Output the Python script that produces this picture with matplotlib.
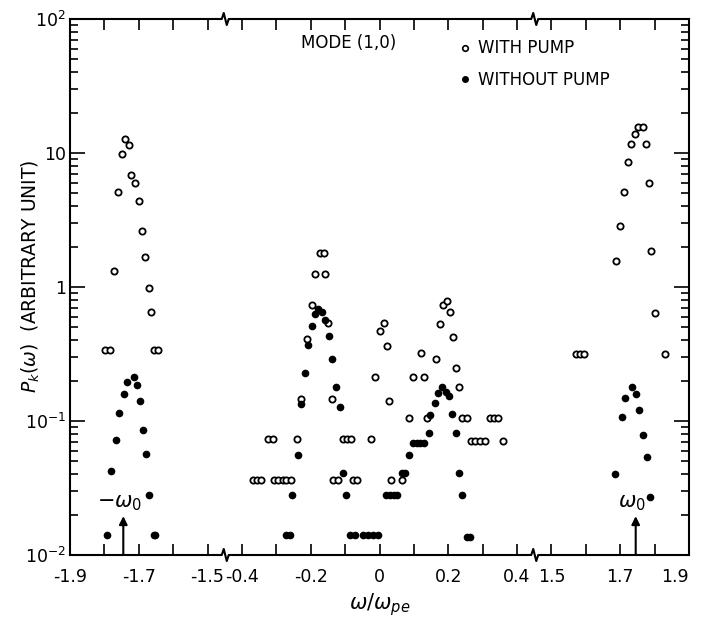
import numpy as np
import matplotlib
matplotlib.use("Agg")
import matplotlib.pyplot as plt
from matplotlib.lines import Line2D

# Spectrum with pump (open circles)
with_pump_x = [-1.797, -1.785, -1.772, -1.760, -1.748, -1.740, -1.728, -1.722, -1.710, -1.699,
               -1.690, -1.681, -1.670, -1.664, -1.657, -1.645,
               -0.369, -0.357, -0.346, -0.325, -0.311, -0.306, -0.294, -0.282, -0.271, -0.257,
               -0.241, -0.227, -0.210, -0.197, -0.187, -0.173, -0.162, -0.158, -0.149, -0.138,
               -0.134, -0.121, -0.107, -0.095, -0.083, -0.076, -0.064,
               -0.024, -0.012, 0.002, 0.012, 0.021, 0.029, 0.034, 0.064,
               0.086, 0.098, 0.129, 0.120, 0.139, 0.164, 0.175, 0.185, 0.197, 0.206,
               0.214, 0.222, 0.232, 0.241, 0.254, 0.266, 0.277, 0.292, 0.306,
               0.321, 0.332, 0.345, 0.360,
               1.570, 1.583, 1.594, 1.689, 1.699, 1.710, 1.724, 1.732, 1.743, 1.753,
               1.765, 1.775, 1.783, 1.790, 1.801, 1.830]
with_pump_y = [0.34, 0.34, 1.32, 5.1, 9.8, 12.7, 11.5, 6.9, 6.0, 4.4,
               2.6, 1.67, 0.98, 0.65, 0.34, 0.34,
               0.036, 0.036, 0.036, 0.073, 0.073, 0.036, 0.036, 0.036, 0.036, 0.036,
               0.073, 0.147, 0.41, 0.73, 1.24, 1.80, 1.80, 1.24, 0.54, 0.147,
               0.036, 0.036, 0.073, 0.073, 0.073, 0.036, 0.036,
               0.073, 0.214, 0.47, 0.54, 0.36, 0.14, 0.036, 0.036,
               0.105, 0.214, 0.214, 0.32, 0.105, 0.29, 0.53, 0.74, 0.78, 0.65,
               0.42, 0.25, 0.18, 0.105, 0.105, 0.071, 0.071, 0.071, 0.071,
               0.105, 0.105, 0.105, 0.071,
               0.316, 0.316, 0.316, 1.56, 2.84, 5.1, 8.6, 11.7, 13.9, 15.5,
               15.5, 11.7, 6.0, 1.85, 0.64, 0.316]

# Spectrum without pump (filled dots)
no_pump_x = [-1.791, -1.780, -1.766, -1.757, -1.744, -1.735, -1.714, -1.706, -1.695, -1.687,
             -1.678, -1.670, -1.657, -1.652,
             -0.271, -0.260, -0.253, -0.238, -0.228, -0.217, -0.209, -0.197, -0.189, -0.178,
             -0.167, -0.158, -0.146, -0.137, -0.126, -0.114, -0.107, -0.097,
             -0.085, -0.072, -0.047, -0.033, -0.019, -0.005,
             0.019, 0.030, 0.041, 0.052, 0.064, 0.074, 0.086,
             0.098, 0.108, 0.118, 0.130, 0.143, 0.147, 0.162, 0.170, 0.182, 0.193,
             0.202, 0.212, 0.222, 0.232, 0.239, 0.253, 0.262,
             1.684, 1.705, 1.715, 1.735, 1.746, 1.756, 1.767, 1.778, 1.787]
no_pump_y = [0.014, 0.042, 0.072, 0.115, 0.16, 0.195, 0.213, 0.187, 0.141, 0.085,
             0.057, 0.028, 0.014, 0.014,
             0.014, 0.014, 0.028, 0.056, 0.134, 0.23, 0.37, 0.51, 0.63, 0.685,
             0.65, 0.57, 0.43, 0.29, 0.18, 0.127, 0.041, 0.028,
             0.014, 0.014, 0.014, 0.014, 0.014, 0.014,
             0.028, 0.028, 0.028, 0.028, 0.041, 0.041, 0.056,
             0.069, 0.069, 0.069, 0.069, 0.082, 0.11, 0.137, 0.162, 0.18, 0.165,
             0.154, 0.112, 0.082, 0.041, 0.028, 0.0137, 0.0137,
             0.04, 0.108, 0.149, 0.178, 0.16, 0.12, 0.079, 0.054, 0.027]

x_ticks = [-1.9, -1.8, -1.7, -1.6, -1.5, -0.4, -0.3, -0.2, -0.1, 0, 0.1, 0.2, 0.3, 0.4,
           1.5, 1.6, 1.7, 1.8, 1.9]
x_tick_labels = ["-1.9", "", "-1.7", "", "-1.5", "-0.4", "", "-0.2", "", "0", "", "0.2", "",
                 "0.4", "1.5", "", "1.7", "", "1.9"]
y_ticks = [1e-2, 1e-1, 1, 10, 1e2]
y_tick_labels = ["$10^{-2}$", "$10^{-1}$", "1", "10", "$10^{2}$"]
omega0 = 1.745

# broken axis: three pieces joined with a small gap
seg_x = [-1.9, -1.5, -0.4, 0.4, 1.5, 1.9]
seg_u = [0.0, 0.4, 0.5, 1.3, 1.4, 1.8]


def fwd(x):
    return np.interp(x, seg_x, seg_u)


def inv(u):
    return np.interp(u, seg_u, seg_x)


fig = plt.figure(figsize=(7.01, 6.20), dpi=100)
ax = fig.add_axes([70 / 701, 65 / 620, 619 / 701, 536 / 620])

ax.set_xscale("function", functions=(fwd, inv))
ax.set_yscale("log")
ax.set_xlim(-1.9, 1.9)
ax.set_ylim(1e-2, 1e2)

ax.plot(with_pump_x, with_pump_y, "o", ms=4.5, mfc="white", mec="black", mew=1.3, ls="none")
ax.plot(no_pump_x, no_pump_y, "o", ms=4.5, mfc="black", mec="black", ls="none")

# ticks
ax.set_xticks(x_ticks)
ax.set_xticklabels(x_tick_labels, fontsize=12.5)
ax.get_xticklabels()[-1].set_horizontalalignment("right")
ax.xaxis.set_minor_locator(matplotlib.ticker.NullLocator())
ax.set_yticks(y_ticks)
ax.set_yticklabels(y_tick_labels, fontsize=12.5)
ax.tick_params(axis="both", which="both", direction="in", top=True, right=True, width=1.2)
ax.tick_params(axis="x", which="major", length=8, pad=9)
ax.tick_params(axis="y", which="major", length=11, pad=3)
ax.tick_params(axis="y", which="minor", length=6)
for sp in ax.spines.values():
    sp.set_linewidth(1.5)

# zigzag break marks on top and bottom spines
W, H = 619.0, 536.0
for uc in (0.25, 0.75):
    for yb in (1.0, 0.0):
        ax.plot([uc - 5 / W, uc + 5 / W], [yb, yb], color="white", lw=3,
                transform=ax.transAxes, clip_on=False, zorder=5)
        zx = [uc - 7 / W, uc - 3 / W, uc - 1 / W, uc + 2 / W, uc + 4 / W, uc + 7 / W]
        zy = [yb, yb, yb + 6 / H, yb - 6 / H, yb, yb]
        ax.plot(zx, zy, color="black", lw=1.5, transform=ax.transAxes,
                clip_on=False, zorder=6)

# pump frequency arrows
for xo, lab in ((-omega0, "$-\\omega_0$"), (omega0, "$\\omega_0$")):
    ax.annotate("", xy=(xo, 0.0195), xytext=(xo, 0.01),
                arrowprops=dict(arrowstyle="-|>", color="black", lw=1.5, mutation_scale=12,
                                shrinkA=0, shrinkB=0))
    ax.text(xo - 0.012, 0.0205, lab, ha="center", va="bottom", fontsize=15)

ax.text(0.45, 0.955, "MODE (1,0)", transform=ax.transAxes, ha="center", va="center",
        fontsize=12)

handles = [
    Line2D([], [], marker="o", ls="none", ms=4, mfc="white", mec="black", mew=1.2,
           label="WITH PUMP"),
    Line2D([], [], marker="o", ls="none", ms=4, mfc="black", mec="black", label="WITHOUT PUMP"),
]
ax.legend(handles=handles, loc="upper left", bbox_to_anchor=(0.6, 0.99), frameon=False,
          fontsize=12, handletextpad=0.3, handlelength=1.0, labelspacing=0.8)

ax.set_xlabel("$\\omega/\\omega_{pe}$", fontsize=15, labelpad=4)
ax.set_ylabel("$P_{k}(\\omega)$  (ARBITRARY UNIT)", fontsize=13.5)
ax.yaxis.set_label_coords(-0.045, 0.52)

fig.savefig("out.png", dpi=100)
